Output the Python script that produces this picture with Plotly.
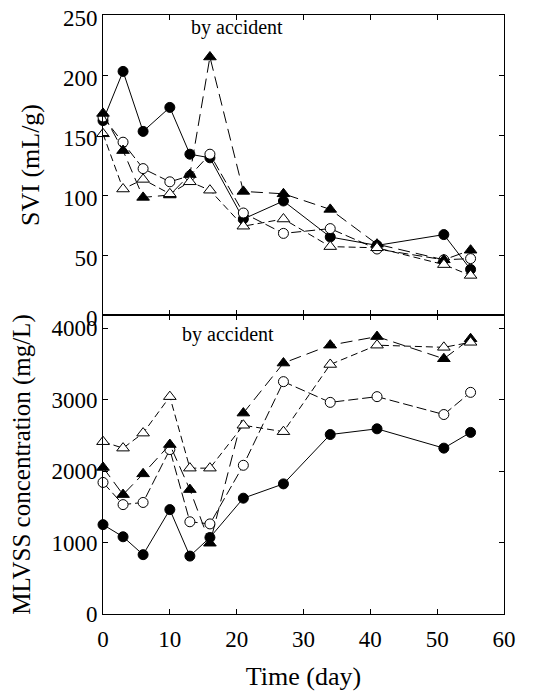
import plotly.graph_objects as go

days = [0, 3, 6, 10, 13, 16, 21, 27, 34, 41, 51, 55]

svi_filled_circle = [162, 203, 153, 173, 134, 131, 80, 95, 65, 58, 67, 38]
svi_open_circle = [165, 144, 122, 111, 116, 134, 85, 68, 72, 55, 46, 47]
svi_filled_tri = [168, 137, 98, 100, 117, 215, 103, 101, 88, 59, 46, 54]
svi_open_tri = [151, 105, 113, 101, 111, 104, 74, 80, 57, 56, 42, 33]

mlvss_filled_circle = [1250, 1080, 830, 1460, 810, 1070, 1620, 1820, 2510, 2590, 2320, 2540]
mlvss_open_circle = [1840, 1530, 1560, 2300, 1290, 1260, 2080, 3250, 2960, 3040, 2790, 3100]
mlvss_filled_tri = [2050, 1670, 1960, 2370, 1740, 990, 2810, 3510, 3760, 3880, 3570, 3850]
mlvss_open_tri = [2410, 2320, 2530, 3040, 2040, 2040, 2640, 2550, 3490, 3760, 3730, 3800]

x_ticks = [0, 10, 20, 30, 40, 50, 60]
svi_ticks = [0, 50, 100, 150, 200, 250]
mlvss_ticks = [0, 1000, 2000, 3000, 4000]

annotation_text = "by accident"

FONT = "Liberation Serif, Times New Roman, serif"

styles = [
    dict(symbol="circle", fill="black", dash="solid"),
    dict(symbol="circle", fill="white", dash="10px,4px"),
    dict(symbol="triangle-up", fill="black", dash="12px,6px"),
    dict(symbol="triangle-up", fill="white", dash="7px,4px"),
]

fig = go.Figure()
top_series = [svi_filled_circle, svi_open_circle, svi_filled_tri, svi_open_tri]
bot_series = [mlvss_filled_circle, mlvss_open_circle, mlvss_filled_tri, mlvss_open_tri]

for ax, series in (("", top_series), ("2", bot_series)):
    for ys, st in zip(series, styles):
        fig.add_trace(go.Scatter(
            x=days, y=ys, xaxis="x" + ax, yaxis="y" + ax, mode="lines+markers",
            line=dict(color="black", width=1, dash=st["dash"]),
            marker=dict(symbol=st["symbol"], size=10 if st["symbol"] == "circle" else 11,
                        color=st["fill"], line=dict(color="black", width=1)),
            showlegend=False, cliponaxis=False))

split = 299 / 599
axis_common = dict(showline=True, linecolor="black", linewidth=1, mirror="ticks",
                   ticks="inside", ticklen=5, tickcolor="black", showgrid=False,
                   zeroline=False, automargin=False, ticklabeloverflow="allow",
                   tickfont=dict(family=FONT, size=23, color="black"))

fig.update_layout(
    template="none",
    width=537, height=683,
    margin=dict(l=95, r=41, t=7, b=77),
    paper_bgcolor="white", plot_bgcolor="white",
    font=dict(family=FONT, color="black"),
    xaxis=dict(domain=[0, 1], anchor="y", range=[0, 60], tickvals=x_ticks,
               showticklabels=False, **axis_common),
    yaxis=dict(domain=[split, 1], anchor="x", range=[0, 250], tickvals=svi_ticks,
               ticklabelshift=3,
               title=dict(text="SVI (mL/g)", font=dict(family=FONT, size=26), standoff=15),
               **axis_common),
    xaxis2=dict(domain=[0, 1], anchor="y2", range=[0, 60], tickvals=x_ticks,
                ticklabelstandoff=4,
                title=dict(text="Time (day)", font=dict(family=FONT, size=26), standoff=19),
                **axis_common),
    yaxis2=dict(domain=[0, split], anchor="x2", range=[0, 4182], tickvals=mlvss_ticks,
                title=dict(text="MLVSS concentration (mg/L)", font=dict(family=FONT, size=25), standoff=15),
                **axis_common),
    annotations=[
        dict(text=annotation_text, x=20, y=240, xref="x", yref="y", showarrow=False,
             font=dict(family=FONT, size=20, color="black")),
        dict(text=annotation_text, x=18.7, y=3906, xref="x2", yref="y2", showarrow=False,
             font=dict(family=FONT, size=20, color="black")),
    ],
)

fig.write_html("out.html")
